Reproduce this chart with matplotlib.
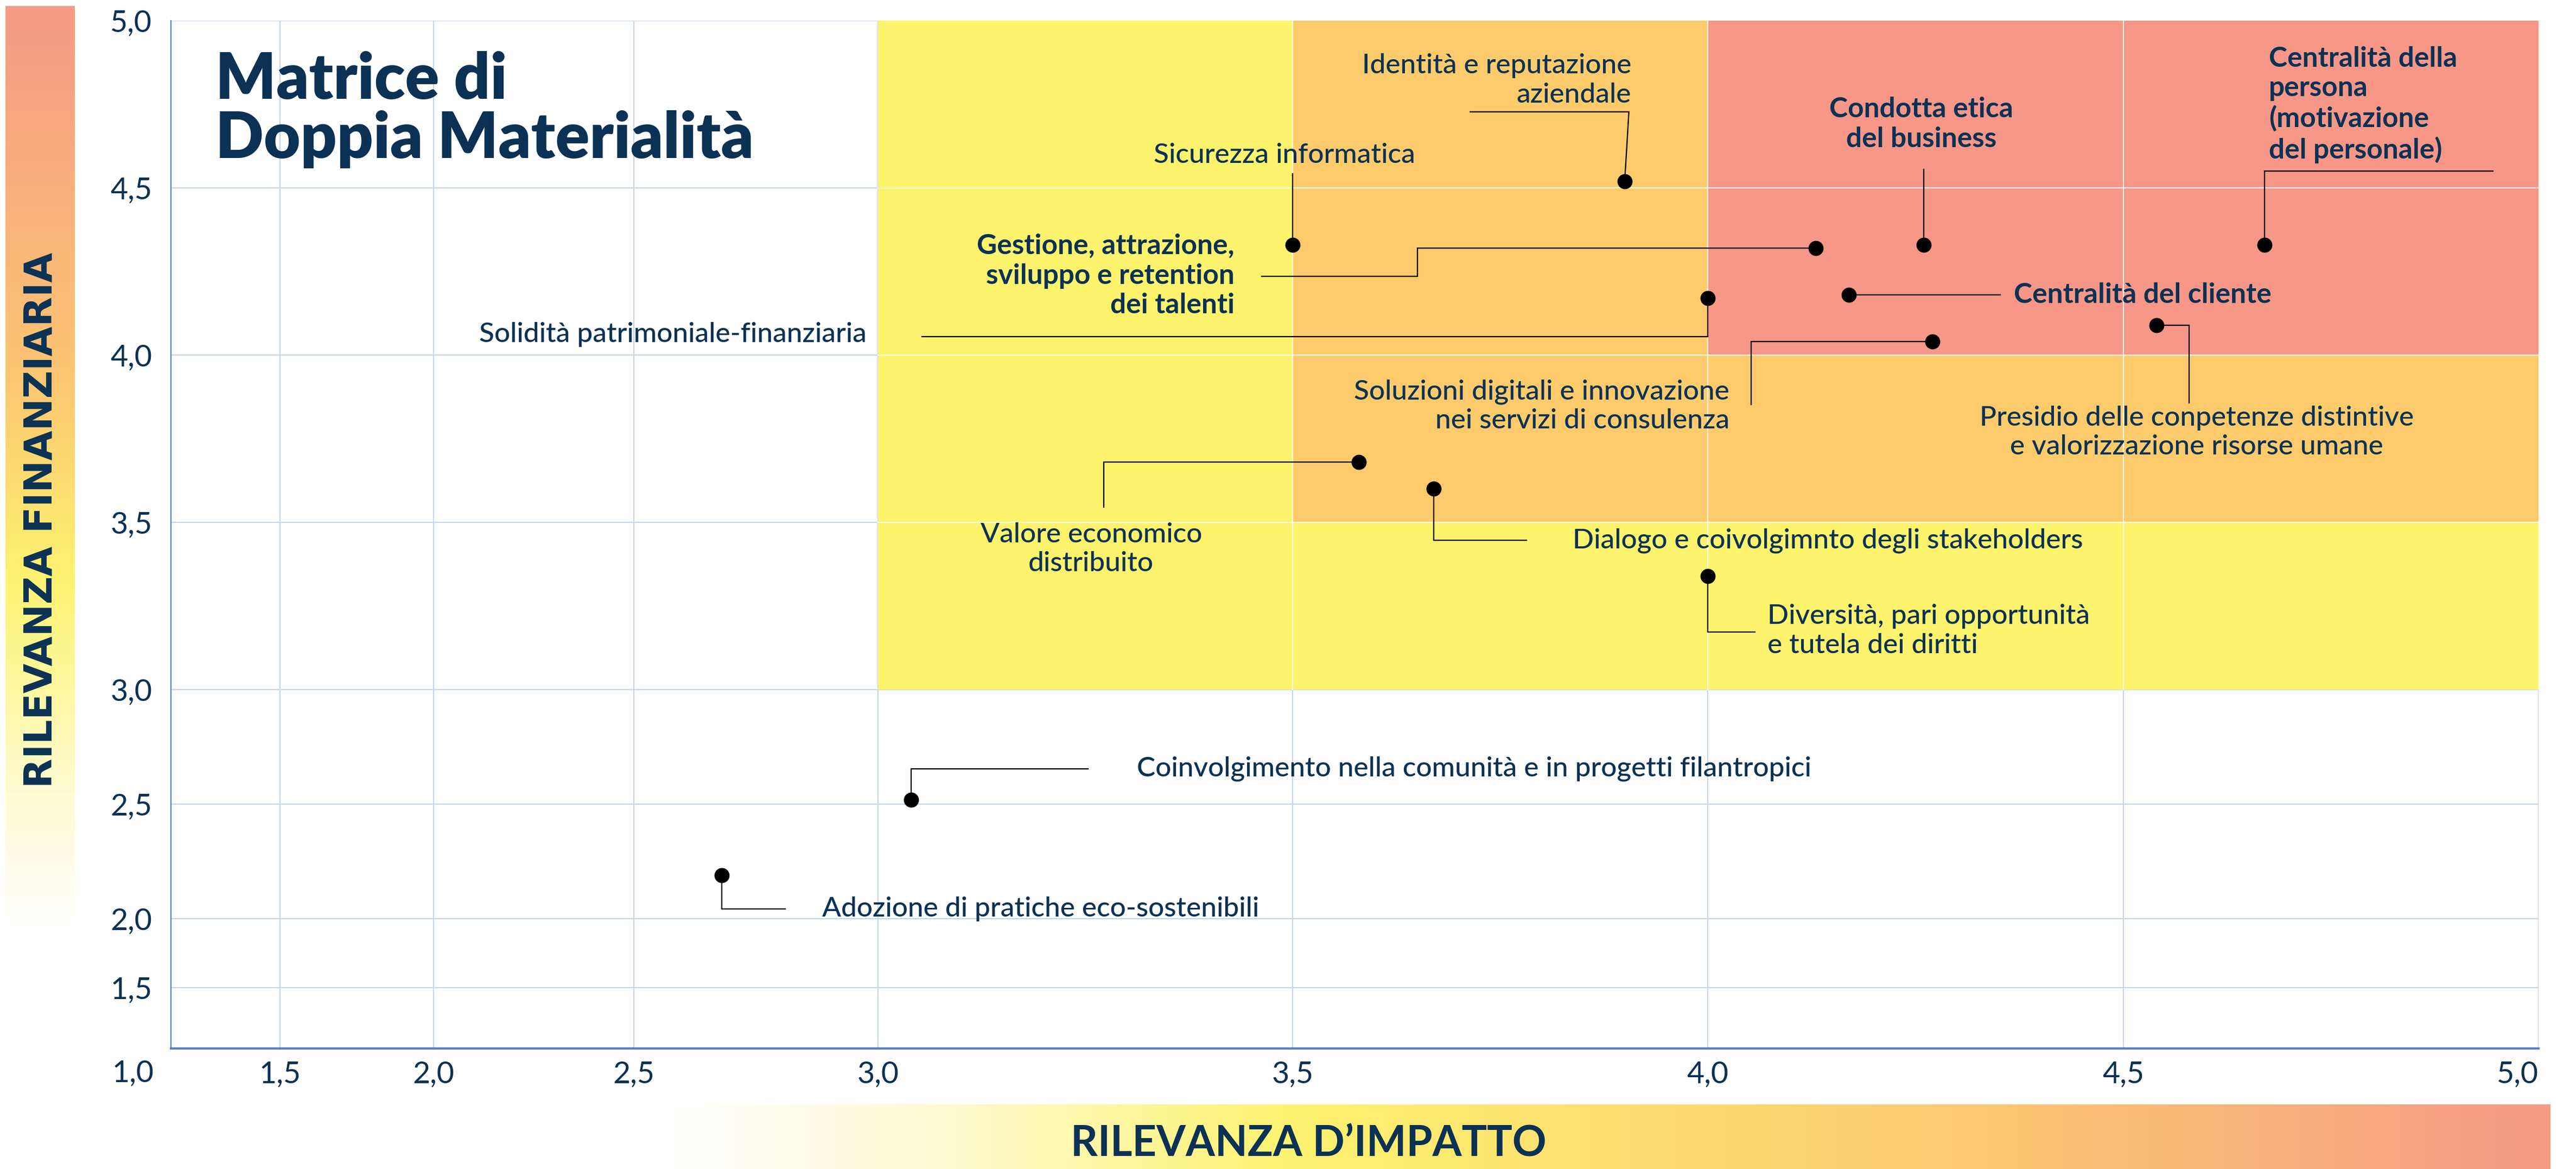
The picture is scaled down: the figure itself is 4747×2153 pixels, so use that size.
import numpy as np
import matplotlib
matplotlib.use('Agg')
import matplotlib.pyplot as plt
from matplotlib.colors import LinearSegmentedColormap
from matplotlib.patches import Rectangle

plt.rcParams['font.family'] = ['Lato', 'DejaVu Sans']

NAVY = '#0B3154'

# temi materiali: rilevanza d'impatto (x) e rilevanza finanziaria (y)
temi = [
    'Identità e reputazione\naziendale',
    'Sicurezza informatica',
    'Gestione, attrazione,\nsviluppo e retention\ndei talenti',
    'Solidità patrimoniale-finanziaria',
    'Condotta etica\ndel business',
    'Centralità della\npersona\n(motivazione\ndel personale)',
    'Centralità del cliente',
    'Presidio delle conpetenze distintive\ne valorizzazione risorse umane',
    'Soluzioni digitali e innovazione\nnei servizi di consulenza',
    'Valore economico\ndistribuito',
    'Dialogo e coivolgimnto degli stakeholders',
    'Diversità, pari opportunità\ne tutela dei diritti',
    'Coinvolgimento nella comunità e in progetti filantropici',
    'Adozione di pratiche eco-sostenibili',
]
impatto = [3.90, 3.50, 4.13, 4.00, 4.26, 4.67, 4.17, 4.54, 4.27, 3.58, 3.67, 4.00, 3.04, 2.68]
finanziaria = [4.52, 4.33, 4.32, 4.17, 4.33, 4.33, 4.18, 4.09, 4.04, 3.68, 3.60, 3.34, 2.52, 2.19]
grassetto = [False, False, True, False, True, True, True, False, False, False, False, False, False, False]

# posizione delle etichette e linee di richiamo (in unita' del grafico)
etichetta_x = [3.908, 3.49, 3.43, 2.977, 4.257, 4.675, 4.368, 4.588, 4.026, 3.257, 3.837, 4.072, 3.312, 2.886]
etichetta_y = [4.821, 4.597, 4.237, 4.062, 4.69, 4.748, 4.18, 3.769, 3.847, 3.42, 3.446, 3.175, 2.654, 2.043]
allineamento = ['right', 'center', 'right', 'right', 'center', 'left', 'left', 'center', 'right',
                'center', 'left', 'left', 'left', 'left']
richiami = [
    [(3.905, 4.727), (3.714, 4.727)],
    [(3.50, 4.542)],
    [(3.650, 4.32), (3.650, 4.235), (3.463, 4.235)],
    [(4.00, 4.055), (3.053, 4.055)],
    [(4.26, 4.555)],
    [(4.67, 4.55), (4.945, 4.55)],
    [(4.352, 4.18)],
    [(4.579, 4.09), (4.579, 3.857)],
    [(4.052, 4.04), (4.052, 3.852)],
    [(3.272, 3.68), (3.272, 3.545)],
    [(3.67, 3.446), (3.782, 3.446)],
    [(4.00, 3.172), (4.057, 3.172)],
    [(3.04, 2.654), (3.253, 2.654)],
    [(2.68, 2.043), (2.81, 2.043)],
]

# scala non lineare degli assi (valore -> pixel)
tick_valori = [1.0, 1.5, 2.0, 2.5, 3.0, 3.5, 4.0, 4.5, 5.0]
tick_px_x = [0, 201, 484, 853, 1303, 2067, 2832, 3598, 4363]
tick_px_y = [0, 112, 239, 450, 661, 969, 1277, 1585, 1893.5]

# zone di materialita'
soglie_zone = [3.0, 3.5, 4.0]
colori_zone = ['#FEF36D', '#FDCB6B', '#F69787']


def fx(v):
    return np.interp(v, tick_valori, tick_px_x)


def fx_inv(p):
    return np.interp(p, tick_px_x, tick_valori)


def fy(v):
    return np.interp(v, tick_valori, tick_px_y)


def fy_inv(p):
    return np.interp(p, tick_px_y, tick_valori)


W, H = 4747, 2153
fig = plt.figure(figsize=(W / 100, H / 100), dpi=100)
fig.patch.set_facecolor('white')

ax = fig.add_axes([315 / W, 1 - 1931 / H, (4678 - 315) / W, (1931 - 37.5) / H])
ax.set_xscale('function', functions=(fx, fx_inv))
ax.set_yscale('function', functions=(fy, fy_inv))
ax.set_xlim(1, 5)
ax.set_ylim(1, 5)

ax.set_axisbelow(True)
ax.grid(True, color='#C7D4E8', linewidth=1.5, zorder=0)

for s, c in zip(soglie_zone, colori_zone):
    ax.add_patch(Rectangle((s, s), 5 - s, 5 - s, facecolor=c, edgecolor='none', zorder=1))

for t in tick_valori:
    if soglie_zone[0] < t < 5:
        ax.plot([t, t], [soglie_zone[0], 5], color='white', linewidth=1.3, zorder=1.5)
        ax.plot([soglie_zone[0], 5], [t, t], color='white', linewidth=1.3, zorder=1.5)

for sp in ['top', 'right']:
    ax.spines[sp].set_visible(False)
ax.spines['left'].set_color('#5B80C2')
ax.spines['left'].set_linewidth(1.6)
ax.spines['bottom'].set_color('#5B80C2')
ax.spines['bottom'].set_linewidth(3)

etichette_tick = [f'{t:.1f}'.replace('.', ',') for t in tick_valori]
ax.set_xticks(tick_valori[1:])
ax.set_xticklabels(etichette_tick[1:])
ax.set_yticks(tick_valori[1:])
ax.set_yticklabels(etichette_tick[1:])
ax.tick_params(length=0, labelsize=40, labelcolor=NAVY)
ax.tick_params(axis='x', pad=16)
ax.tick_params(axis='y', pad=25)
ax.get_xticklabels()[-1].set_horizontalalignment('right')
ax.annotate(etichette_tick[0], xy=(1.0, 1.0), xytext=(-70, -46), textcoords='offset pixels',
            ha='center', va='center', fontsize=40, color=NAVY, annotation_clip=False)

# linee di richiamo e punti
for x, y, percorso in zip(impatto, finanziaria, richiami):
    xs = [x] + [p[0] for p in percorso]
    ys = [y] + [p[1] for p in percorso]
    ax.plot(xs, ys, color='black', linewidth=1.6, zorder=3, solid_joinstyle='miter')
ax.scatter(impatto, finanziaria, s=400, color='black', zorder=4, linewidths=0)

for testo, lx, ly, ha, b in zip(temi, etichetta_x, etichetta_y, allineamento, grassetto):
    ax.text(lx, ly, testo, ha=ha, va='center', fontsize=37, color=NAVY,
            fontweight='bold' if b else 'medium', linespacing=1.2, zorder=5)

# titolo
fig.text(397 / W, 1 - 291 / H, 'Matrice di\nDoppia Materialità', ha='left', va='baseline',
         fontsize=84, fontweight='heavy', color=NAVY, linespacing=1.02)

# fasce sfumate dei titoli degli assi
grad = np.linspace(0, 1, 512)
cmap_y = LinearSegmentedColormap.from_list('fy', [(0, '#F59A86'), (0.4, '#FCC672'), (0.62, '#FEF370'),
                                                   (0.85, '#FFFBD2'), (1, '#FFFFFF')])
ax_by = fig.add_axes([10 / W, 1 - 1719 / H, 128 / W, 1708 / H])
ax_by.imshow(grad[:, None], cmap=cmap_y, aspect='auto')
ax_by.axis('off')

cmap_x = LinearSegmentedColormap.from_list('fx', [(0, '#FFFFFF'), (0.15, '#FFFAD0'), (0.33, '#FEF370'),
                                                   (0.70, '#FCC872'), (1, '#F59A86')])
ax_bx = fig.add_axes([1225 / W, 0, (4700 - 1225) / W, (2153 - 2034) / H])
ax_bx.imshow(grad[None, :], cmap=cmap_x, aspect='auto')
ax_bx.axis('off')

fig.text(76 / W, 1 - 958 / H, 'RILEVANZA FINANZIARIA', rotation=90, ha='center', va='center',
         fontsize=51, fontweight='bold', color=NAVY, family='DejaVu Sans')
fig.text(2411 / W, 1 - 2130 / H, 'RILEVANZA D\u2019IMPATTO', ha='center', va='baseline',
         fontsize=56, fontweight='bold', color=NAVY)

fig.savefig('out.png', dpi=100)
